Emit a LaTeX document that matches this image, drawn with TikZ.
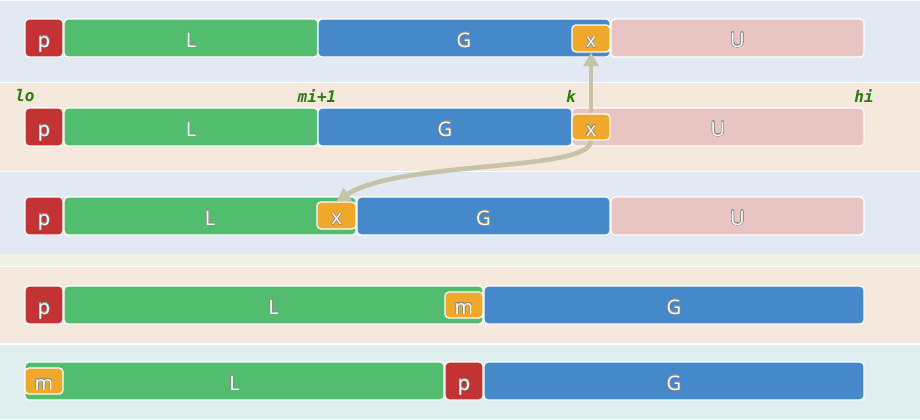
\documentclass[tikz,border=0pt]{standalone}
\usepackage{fontspec}
\setmainfont{Open Sans}
\newfontfamily\lblfont{DejaVu Sans Mono}
\usepackage{contour}
\contourlength{0.4pt}
\usetikzlibrary{arrows.meta}
\definecolor{cp}{HTML}{C33333}
\definecolor{cl}{HTML}{52BD6F}
\definecolor{cg}{HTML}{4589CB}
\definecolor{cx}{HTML}{F0A82A}
\definecolor{cu}{HTML}{E8C4C3}
\definecolor{bb}{HTML}{E2E9F3}
\definecolor{bw}{HTML}{F5E9DE}
\definecolor{bgr}{HTML}{EEF2E4}
\definecolor{bt}{HTML}{DFEEEE}
\definecolor{ca}{HTML}{C6C3A8}
\definecolor{lg}{HTML}{2E7A10}
\definecolor{cgray}{HTML}{8A8A8A}
\tikzset{
  bx/.style={draw=white, line width=1pt, rounded corners=3pt, inner sep=0pt,
    text=white, font=\fontsize{15}{16}\selectfont, text height=13.6pt, text depth=0pt},
  idx/.style={text=lg, font=\lblfont\bfseries\itshape\fontsize{12}{12}\selectfont, inner sep=0pt},
  arr/.style={draw=ca, line width=3.5pt, -{Triangle[length=10pt,width=11pt]}},
}
\newcommand\bx[7]{\node[bx, fill=#6, minimum width={(#4-#2)*0.75pt}, minimum height={(#5-#3)*0.75pt}] (#1) at ({(#2+#4)/2},{(#3+#5)/2}) {\contour{cgray}{#7}};}
\begin{document}
\begin{tikzpicture}[x=0.75pt,y=-0.75pt]
\useasboundingbox (0,0) rectangle (920,419);
\fill[white] (0,0) rectangle (920,419);
% bands
\fill[bb] (0,1) rectangle (920,82);
\fill[bw] (0,83) rectangle (920,171);
\fill[bb] (0,172) rectangle (920,254);
\fill[bgr] (0,254) rectangle (920,266);
\fill[bw] (0,267) rectangle (920,343);
\fill[bt] (0,345) rectangle (920,419);
% row 1
\bx{p1}{25}{19}{63}{57}{cp}{p}
\bx{L1}{64}{19}{318}{57}{cl}{L}
\bx{G1}{318}{19}{610}{57}{cg}{G}
\bx{U1}{611}{19}{864}{57}{cu}{U}
\bx{x1}{572}{25}{610}{52}{cx}{x}
% row 2
\node[idx] (lo) at (25,96) {lo};
\node[idx] (mi) at (317,96) {mi+1};
\node[idx] (k) at (571,96) {k};
\node[idx] (hi) at (864,96) {hi};
\bx{p2}{25}{108}{63}{146}{cp}{p}
\bx{L2}{64}{108}{318}{146}{cl}{L}
\bx{G2}{318}{108}{572}{146}{cg}{G}
\bx{U2}{572}{108}{864}{146}{cu}{U}
\bx{x2}{572}{114}{610}{140}{cx}{x}
% row 3
\bx{p3}{25}{197}{63}{235}{cp}{p}
\bx{L3}{64}{197}{356}{235}{cl}{L}
\bx{G3}{357}{197}{610}{235}{cg}{G}
\bx{U3}{611}{197}{864}{235}{cu}{U}
\bx{x3}{317}{202}{356}{229}{cx}{x}
% row 4
\bx{p4}{25}{286}{63}{324}{cp}{p}
\bx{L4}{64}{286}{483}{324}{cl}{L}
\bx{G4}{484}{286}{864}{324}{cg}{G}
\bx{m4}{445}{292}{483}{318}{cx}{m}
% row 5
\bx{L5}{25}{362}{444}{400}{cl}{L}
\bx{p5}{445}{362}{483}{400}{cp}{p}
\bx{G5}{484}{362}{864}{400}{cg}{G}
\bx{m5}{25}{368}{63}{394}{cx}{m}
% arrows
\draw[arr] (x2.north) -- (x1.south);
\draw[arr] (x2.south) .. controls (591,172) and (400,160) .. (x3.north);
\end{tikzpicture}
\end{document}
